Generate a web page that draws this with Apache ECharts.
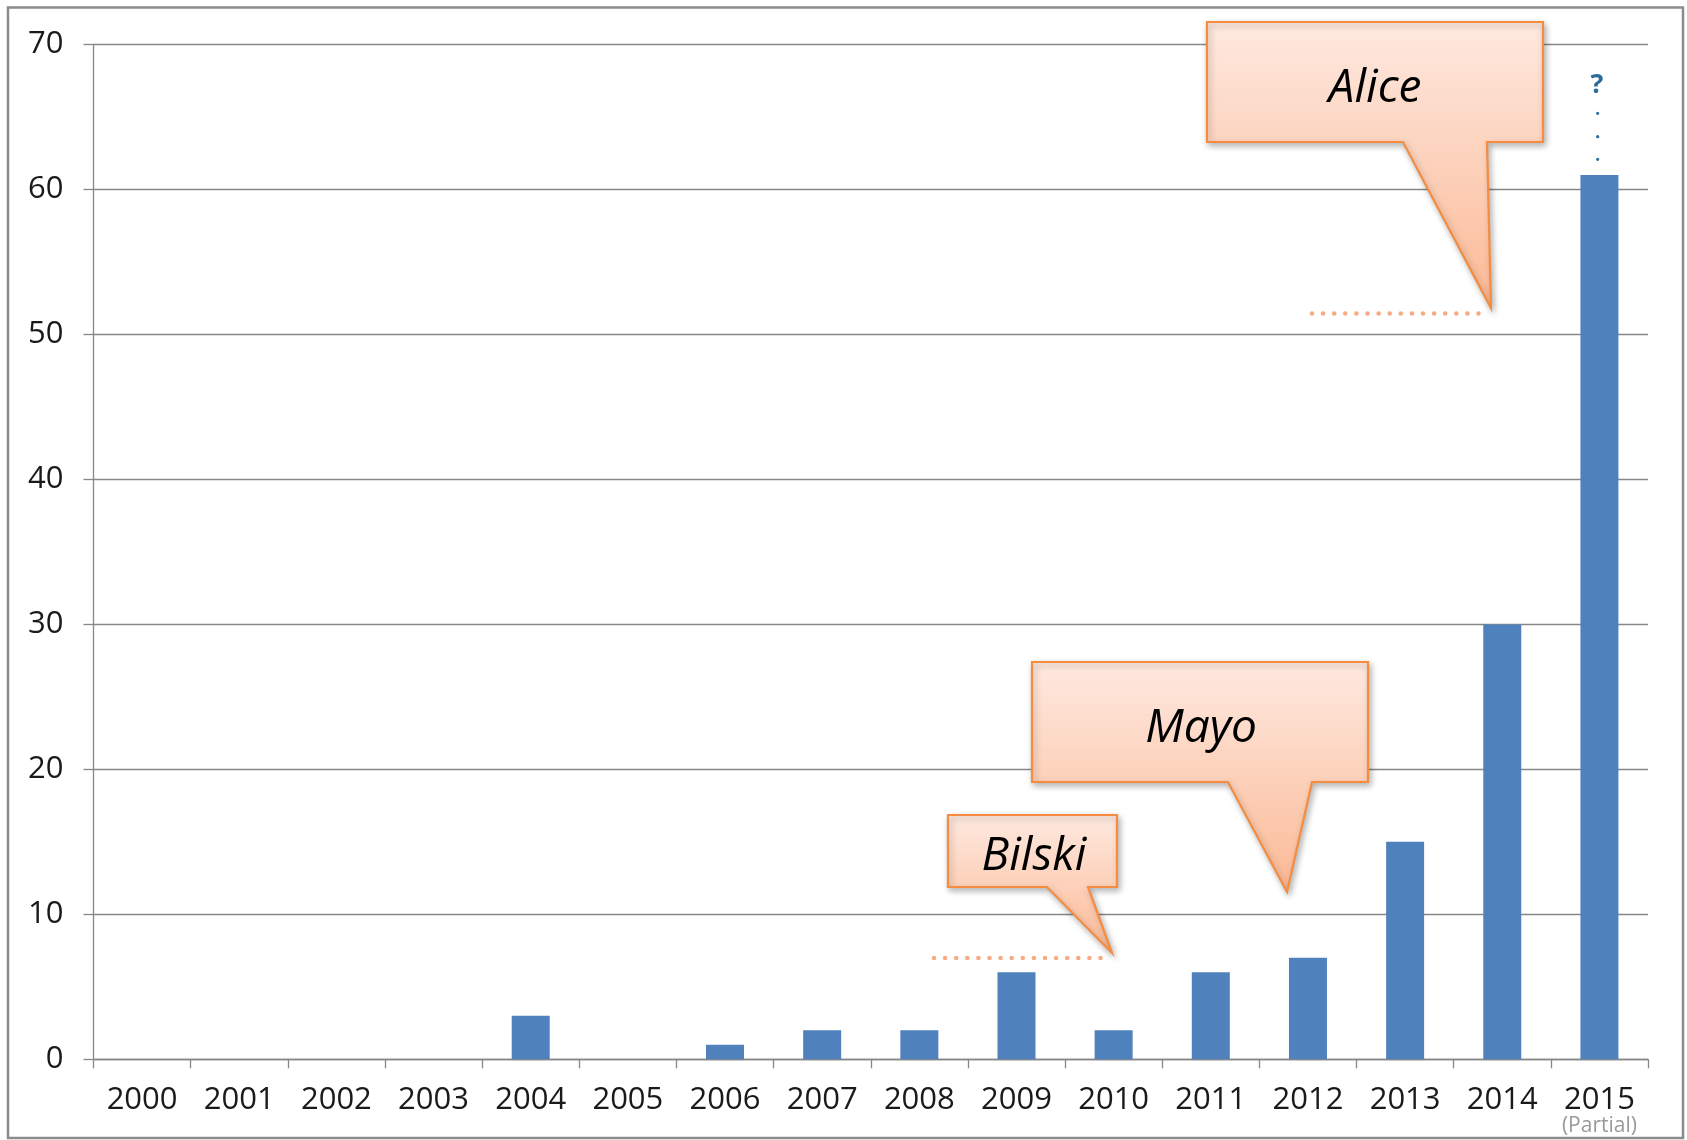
<!DOCTYPE html>
<html>
<head>
<meta charset="utf-8">
<script src="https://cdn.jsdelivr.net/npm/echarts@6/dist/echarts.min.js"></script>
<style>
html,body{margin:0;padding:0;background:#fff;}
#chart{width:1687px;height:1140px;}
</style>
</head>
<body>
<div id="chart"></div>
<script>
// ---- data ----
var years = ['2000','2001','2002','2003','2004','2005','2006','2007','2008','2009','2010','2011','2012','2013','2014','2015'];
var cases = [0, 0, 0, 0, 3, 0, 1, 2, 2, 6, 2, 6, 7, 15, 30, 61];
var yTicks = [0, 10, 20, 30, 40, 50, 60, 70];
var partialYear = '2015';
var partialNote = '(Partial)';
var callouts = [
  {text: 'Alice',  points: [[1207,22],[1543,22],[1543,142],[1487,142],[1491,308],[1403,142],[1207,142]], tx: 1375, ty: 87},
  {text: 'Mayo',   points: [[1032,662],[1368,662],[1368,782],[1312,782],[1287,892],[1228,782],[1032,782]], tx: 1201, ty: 727},
  {text: 'Bilski', points: [[948,815],[1117,815],[1117,887],[1088,887],[1112,953],[1047,887],[948,887]], tx: 1034, ty: 855}
];

var FONT = '"Open Sans", "Noto Sans", sans-serif';
var chart = echarts.init(document.getElementById('chart'));

var graphics = [];
graphics.push({
  type: 'rect', z: 1, silent: true,
  shape: {x: 8, y: 7.5, width: 1675, height: 1130.5},
  style: {fill: 'none', stroke: '#8c8c8c', lineWidth: 2.5}
});
// dotted reference lines
graphics.push({
  type: 'line', z: 50, silent: true,
  shape: {x1: 934, y1: 958, x2: 1103, y2: 958},
  style: {stroke: '#f7ab82', lineWidth: 4.6, lineCap: 'round', lineDash: [0, 11.1]}
});
graphics.push({
  type: 'line', z: 50, silent: true,
  shape: {x1: 1312, y1: 313.5, x2: 1481, y2: 313.5},
  style: {stroke: '#f7ab82', lineWidth: 4.6, lineCap: 'round', lineDash: [0, 11.1]}
});
callouts.forEach(function (c) {
  graphics.push({
    type: 'polygon', z: 60, silent: true,
    shape: {points: c.points},
    style: {
      fill: {type: 'linear', x: 0, y: 0, x2: 0, y2: 1,
             colorStops: [{offset: 0, color: '#fee9e0'}, {offset: 1, color: '#fbb995'}]},
      stroke: '#f58c3f', lineWidth: 2.2, lineJoin: 'miter',
      shadowBlur: 6, shadowOffsetX: 2, shadowOffsetY: 3, shadowColor: 'rgba(0,0,0,0.28)'
    }
  });
  graphics.push({
    type: 'text', z: 61, silent: true,
    x: c.tx, y: c.ty + 2,
    style: {text: c.text, fill: '#000', font: 'italic 46px ' + FONT,
            textAlign: 'center', textVerticalAlign: 'middle'}
  });
});
// question mark and dots above partial year
graphics.push({
  type: 'text', z: 61, silent: true, x: 1597, y: 85,
  style: {text: '?', fill: '#2b6c9a', font: 'bold 27px ' + FONT, textAlign: 'center', textVerticalAlign: 'middle'}
});
[113.3, 136.7, 159.3].forEach(function (yy) {
  graphics.push({type: 'circle', z: 61, silent: true, shape: {cx: 1597.7, cy: yy, r: 1.6}, style: {fill: '#2b6c9a'}});
});

chart.setOption({
  backgroundColor: '#ffffff',
  animation: false,
  grid: {left: 93.5, right: 39, top: 44.5, bottom: 80.7, containLabel: false},
  xAxis: {
    type: 'category',
    data: years,
    boundaryGap: true,
    axisLine: {show: true, lineStyle: {color: '#878787', width: 1.3}},
    axisTick: {show: true, length: 9, alignWithLabel: false, lineStyle: {color: '#878787', width: 1.3}},
    axisLabel: {
      interval: 0, margin: 25, fontSize: 31, lineHeight: 31, color: '#1a1a1a', fontFamily: FONT,
      formatter: function (v) { return v === partialYear ? v + '\n{p|' + partialNote + '}' : v; },
      rich: {p: {fontSize: 21, lineHeight: 22, color: '#9a9a9a', fontFamily: FONT}}
    },
    splitLine: {show: false}
  },
  yAxis: {
    type: 'value',
    min: yTicks[0], max: yTicks[yTicks.length - 1], interval: yTicks[1] - yTicks[0],
    axisLine: {show: true, lineStyle: {color: '#878787', width: 1.3}},
    axisTick: {show: true, length: 10, lineStyle: {color: '#878787', width: 1.3}},
    axisLabel: {margin: 30, fontSize: 31, color: '#1a1a1a', fontFamily: FONT},
    splitLine: {show: true, lineStyle: {color: '#878787', width: 1.3}}
  },
  series: [{
    type: 'bar',
    data: cases,
    barWidth: 38,
    itemStyle: {color: '#4f81bd'},
    z: 2
  }],
  graphic: graphics
});
</script>
</body>
</html>
